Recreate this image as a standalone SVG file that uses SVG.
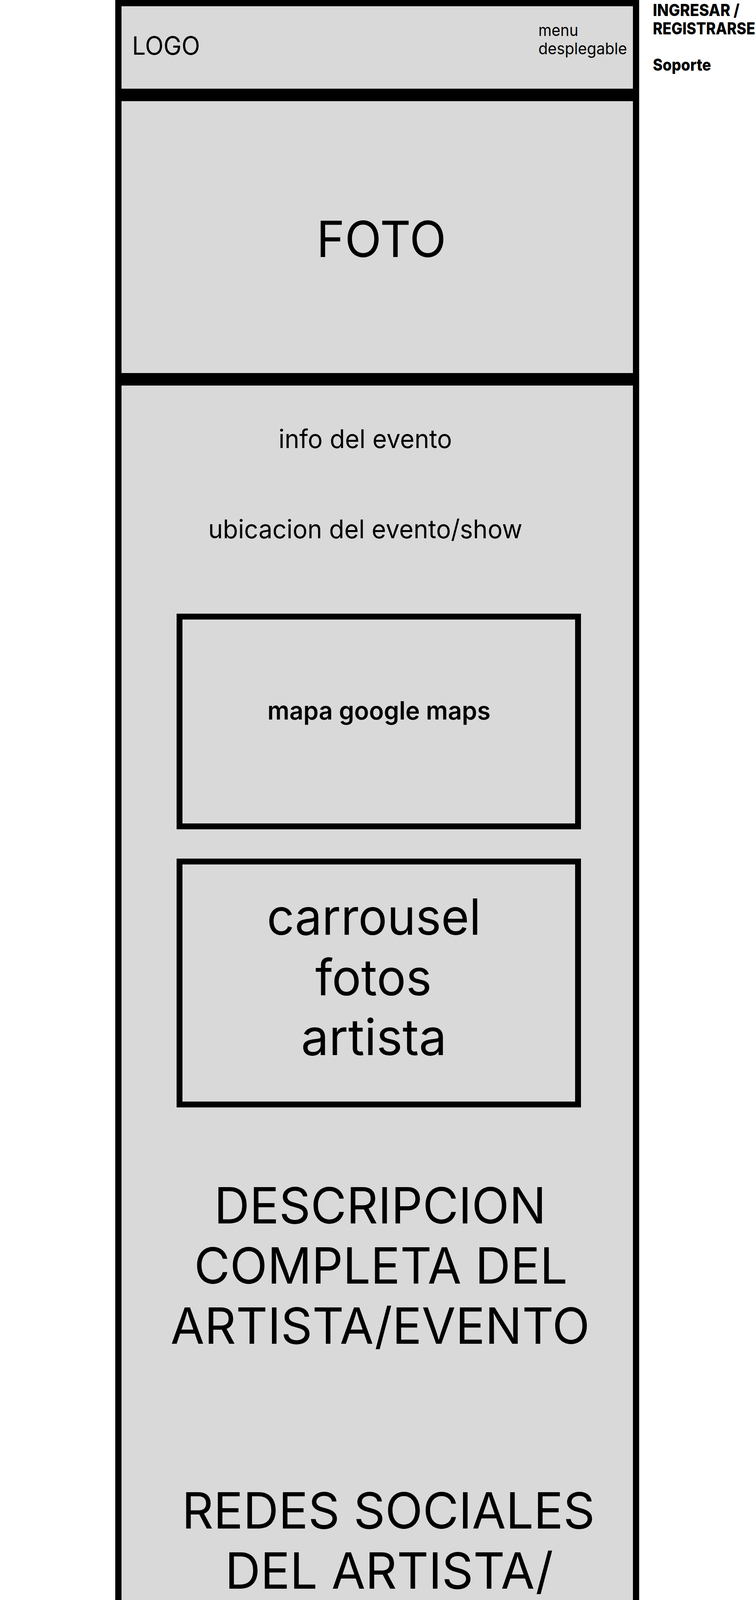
<svg xmlns="http://www.w3.org/2000/svg" width="1935" height="5445" viewBox="0 0 1935 5445">
<style>
.sec{fill:#D9D9D9;stroke:#000;stroke-width:16}
.box{fill:#D9D9D9;stroke:#000;stroke-width:15}
text{font-family:"Inter","Liberation Sans",sans-serif;fill:#000}
.r{font-weight:400}
.b{font-weight:800}
.sb{font-weight:600}
.c{text-anchor:middle}
</style>
<rect x="0" y="0" width="1935" height="5445" fill="#FFFFFF"/>
<g id="header">
<rect class="sec" x="303" y="8" width="1325" height="227"/>
<text class="r" x="338" y="140" font-size="64" textLength="174" lengthAdjust="spacingAndGlyphs">LOGO</text>
<text class="r" x="1378" y="92" font-size="41" textLength="102" lengthAdjust="spacingAndGlyphs">menu</text>
<text class="r" x="1378" y="139" font-size="41" textLength="227" lengthAdjust="spacingAndGlyphs">desplegable</text>
</g>
<g id="links">
<text class="b" x="1671" y="41" font-size="42" textLength="222" lengthAdjust="spacingAndGlyphs">INGRESAR /</text>
<text class="b" x="1671" y="88" font-size="42" textLength="262" lengthAdjust="spacingAndGlyphs">REGISTRARSE</text>
<text class="b" x="1671" y="181" font-size="42" textLength="149" lengthAdjust="spacingAndGlyphs">Soporte</text>
</g>
<g id="foto">
<rect class="sec" x="303" y="251" width="1325" height="712"/>
<text class="r c" x="976" y="658" font-size="128" textLength="332" lengthAdjust="spacingAndGlyphs">FOTO</text>
</g>
<g id="contenido">
<rect class="sec" x="303" y="979" width="1325" height="3426"/>
<text class="r c" x="935" y="1147" font-size="66" textLength="444" lengthAdjust="spacingAndGlyphs">info del evento</text>
<text class="r c" x="935" y="1378" font-size="66" textLength="804" lengthAdjust="spacingAndGlyphs">ubicacion del evento/show</text>
</g>
<g id="mapa">
<rect class="box" x="459.5" y="1578.5" width="1020" height="537"/>
<text class="sb c" x="970" y="1842" font-size="64" textLength="571" lengthAdjust="spacingAndGlyphs">mapa google maps</text>
</g>
<g id="carrousel">
<rect class="box" x="459.5" y="2205.5" width="1020" height="622"/>
<text class="r c" x="957" y="2393" font-size="128" textLength="548" lengthAdjust="spacingAndGlyphs">carrousel</text>
<text class="r c" x="956" y="2548" font-size="128" textLength="298" lengthAdjust="spacingAndGlyphs">fotos</text>
<text class="r c" x="957" y="2701" font-size="128" textLength="373" lengthAdjust="spacingAndGlyphs">artista</text>
</g>
<g id="descripcion">
<text class="r c" x="973" y="3132" font-size="128" textLength="850" lengthAdjust="spacingAndGlyphs">DESCRIPCION</text>
<text class="r c" x="975" y="3286" font-size="128" textLength="956" lengthAdjust="spacingAndGlyphs">COMPLETA DEL</text>
<text class="r c" x="973" y="3440" font-size="128" textLength="1073" lengthAdjust="spacingAndGlyphs">ARTISTA/EVENTO</text>
</g>
<g id="redes">
<text class="r c" x="994" y="3913" font-size="128" textLength="1057" lengthAdjust="spacingAndGlyphs">REDES SOCIALES</text>
<text class="r c" x="996" y="4067" font-size="128" textLength="840" lengthAdjust="spacingAndGlyphs">DEL ARTISTA/</text>
<text class="r c" x="994" y="4220" font-size="128" textLength="502" lengthAdjust="spacingAndGlyphs">EVENTO</text>
</g>
<g id="footer">
<rect class="sec" x="303" y="4422" width="1325" height="1015"/>
<text class="r" x="823" y="4692" font-size="98" textLength="269" lengthAdjust="spacingAndGlyphs">footer</text>
<text class="r" x="870" y="5113" font-size="98" textLength="193" lengthAdjust="spacingAndGlyphs">logo</text>
<text class="r" x="869" y="5311" font-size="40" textLength="185" lengthAdjust="spacingAndGlyphs">SOPORTE</text>
<text class="r" x="869" y="5415" font-size="41" textLength="178" lengthAdjust="spacingAndGlyphs">copyright</text>
</g>
<g id="connectors"/>
</svg>
